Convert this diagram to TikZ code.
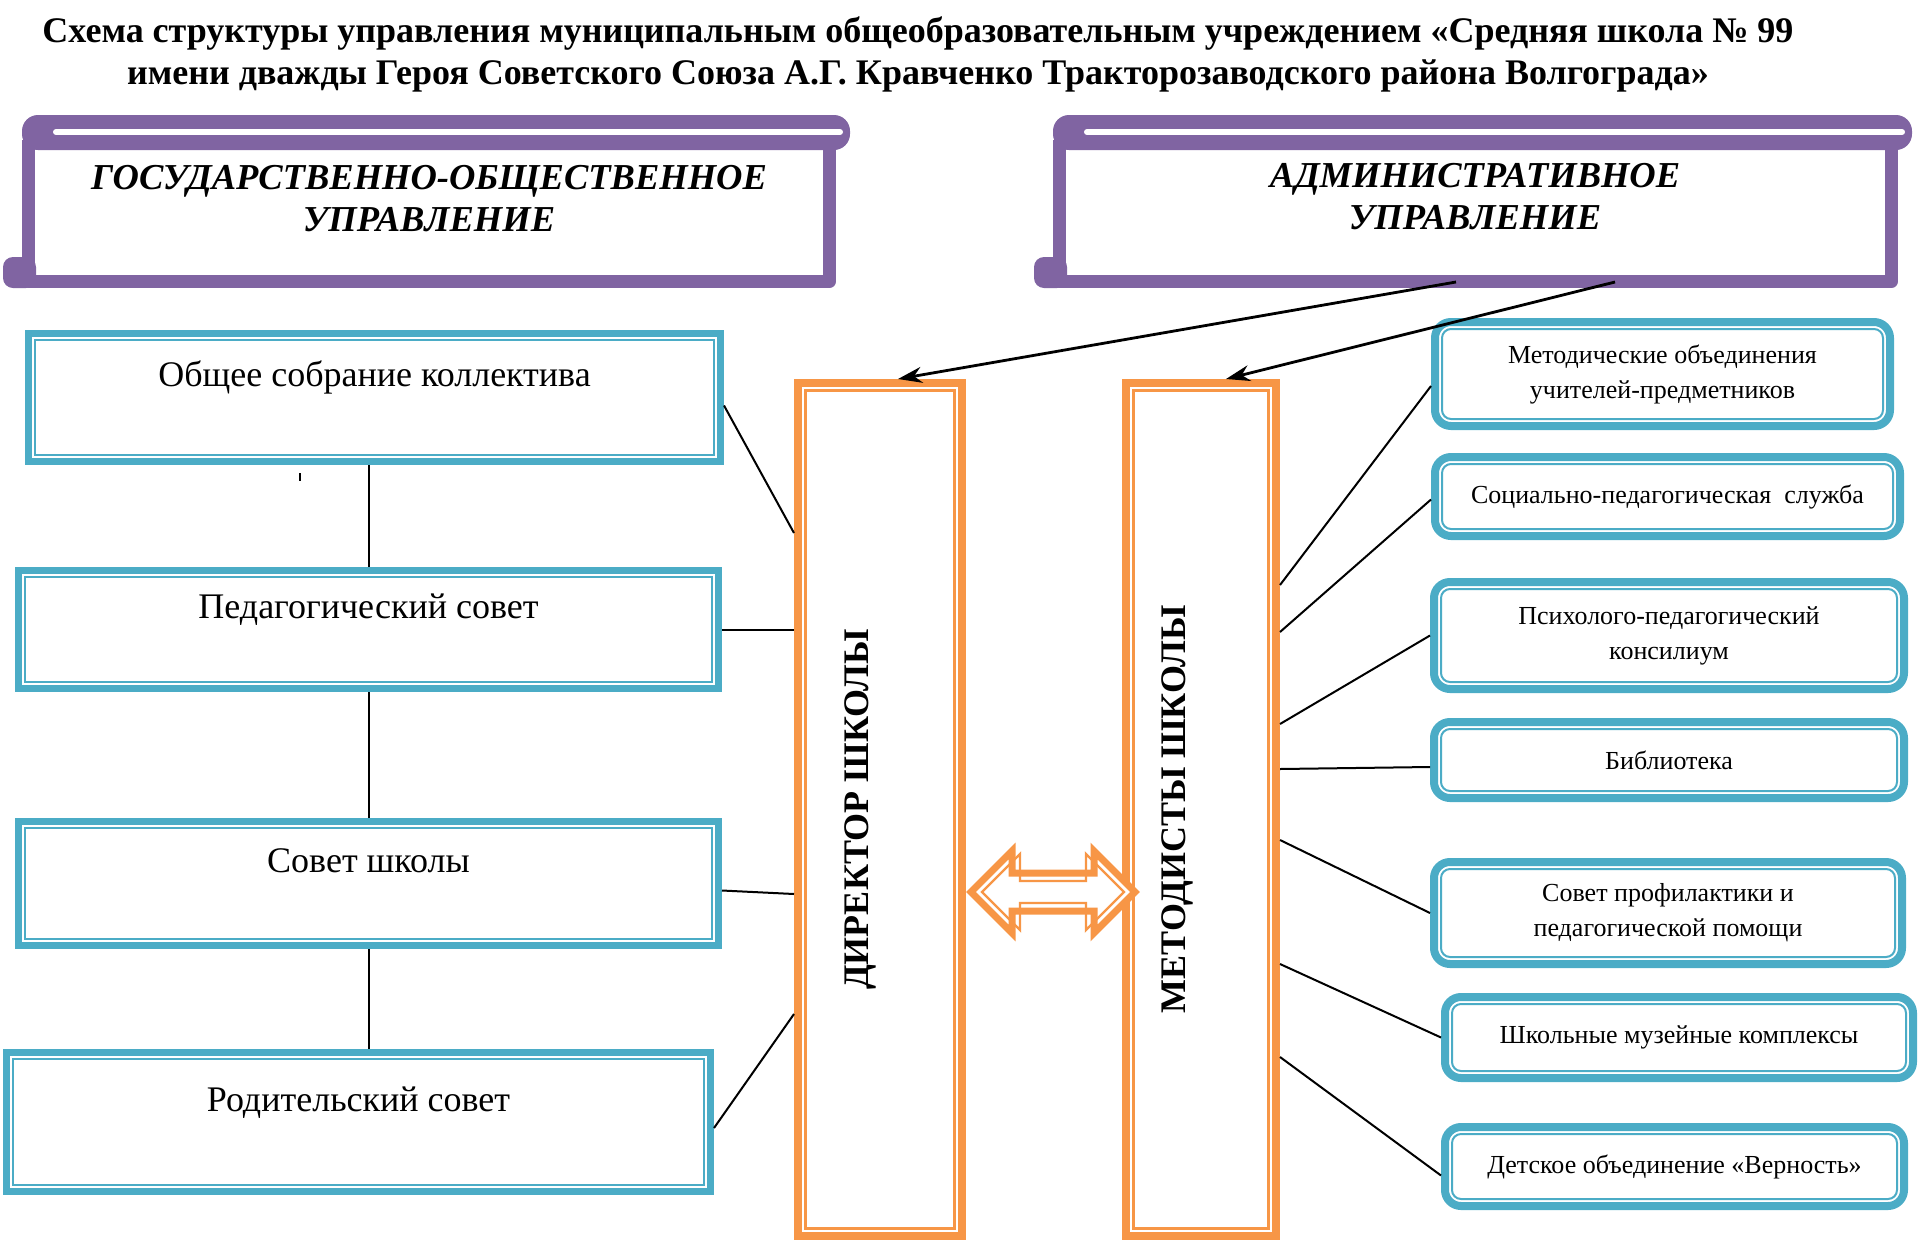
\documentclass[tikz,border=0pt]{standalone}
\usepackage{fontspec}
\setmainfont{Liberation Serif}
\usetikzlibrary{arrows.meta}

\definecolor{bluec}{HTML}{4BACC6}
\definecolor{purc}{HTML}{8064A2}
\definecolor{orgc}{HTML}{F79646}

\tikzset{
  lbox/.style={draw=bluec, line width=7pt, fill=white, align=center,
    font=\fontsize{36}{40}\selectfont, text height=26pt, text depth=48pt},
  rbox/.style={draw=bluec, line width=8pt, fill=white, rounded corners=16pt,
    align=center, font=\fontsize{26}{35}\selectfont},
  colbox/.style={draw=orgc, line width=8pt, fill=white},
  coltext/.style={rotate=90, font=\fontsize{36}{40}\selectfont\bfseries},
  headtext/.style={align=center, font=\fontsize{36.5}{42}\selectfont\bfseries\itshape},
  link/.style={line width=2pt},
  arr/.style={line width=2.8pt, -{Stealth[length=24pt, width=16pt]}},
}

\begin{document}
\begin{tikzpicture}[x=1pt, y=-1pt]
    \useasboundingbox (0,0) rectangle (1920,1240);

    \node[font=\fontsize{36}{42}\selectfont\bfseries, align=center] (title) at (918,54)
        {Схема структуры управления муниципальным общеобразовательным учреждением «Средняя школа № 99\\
         имени дважды Героя Советского Союза А.Г. Кравченко Тракторозаводского района Волгограда»};

    % scrolls
    \foreach \xa/\xb in {22/836, 1053/1898}{
        \fill[white] ({\xa+7},148) rectangle ({\xb-7},282);
        \draw[purc, line width=13pt, line join=round] ({\xa+6.5},140) -- ({\xa+6.5},281.5) -- ({\xb-6.5},281.5) -- ({\xb-6.5},140);
        \fill[purc, rounded corners=16pt] (\xa,115) rectangle ({\xb+14},150);
        \draw[white, line width=6pt, line cap=round] ({\xa+34},132) -- ({\xb+4},132);
        \fill[purc, rounded corners=10pt] ({\xa-19},257) rectangle ({\xa+14},288);
    }
    \node[headtext] (gos) at (429,199) {ГОСУДАРСТВЕННО-ОБЩЕСТВЕННОЕ\\УПРАВЛЕНИЕ};
    \node[headtext] (adm) at (1475,197) {АДМИНИСТРАТИВНОЕ\\УПРАВЛЕНИЕ};

    % left column
    \node[lbox, minimum width=692pt, minimum height=128pt] (ob) at (374.5,397.5) {Общее собрание коллектива};
    \node[lbox, minimum width=700pt, minimum height=118pt] (ped) at (368.5,629.5) {Педагогический совет};
    \node[lbox, minimum width=700pt, minimum height=124pt] (sov) at (368.5,883.5) {Совет школы};
    \node[lbox, minimum width=704pt, minimum height=139pt] (rod) at (358.5,1122) {Родительский совет};
    \foreach \n in {ob,ped,sov,rod}
        \draw[bluec, line width=2pt] ([xshift=10pt,yshift=-10pt]\n.north west) rectangle ([xshift=-10pt,yshift=10pt]\n.south east);

    % middle
    \node[colbox, minimum width=164pt, minimum height=853pt] (dir) at (880,809.5) {};
    \node[colbox, minimum width=150pt, minimum height=853pt] (met) at (1201,809.5) {};
    \foreach \n in {dir,met}
        \draw[orgc, line width=2.5pt] ([xshift=11.5pt,yshift=-11.5pt]\n.north west) rectangle ([xshift=-11.5pt,yshift=11.5pt]\n.south east);
    \node[coltext] (dirt) at ([xshift=-20pt]dir.center) {ДИРЕКТОР ШКОЛЫ};
    \node[coltext] (mett) at ([xshift=-24pt]met.center) {МЕТОДИСТЫ ШКОЛЫ};

    \filldraw[orgc, fill=white, line width=7pt] (971,892) -- (1012,851) -- (1012,873) -- (1094,873) -- (1094,851) -- (1135,892)
        -- (1094,933) -- (1094,911) -- (1012,911) -- (1012,933) -- cycle;
    \draw[orgc, line width=2.4pt] (982,892) -- (1020,854) -- (1020,881) -- (1086,881) -- (1086,854) -- (1124,892)
        -- (1086,930) -- (1086,903) -- (1020,903) -- (1020,930) -- cycle;

    % right column
    \node[rbox, minimum width=455pt, minimum height=104pt] (mo) at (1662.5,374) {Методические объединения\\учителей-предметников};
    \node[rbox, minimum width=465pt, minimum height=79pt] (sp) at (1667.5,496.5) {Социально-педагогическая\ \ служба};
    \node[rbox, minimum width=470pt, minimum height=107pt] (pp) at (1669,635.5) {Психолого-педагогический\\консилиум};
    \node[rbox, minimum width=470pt, minimum height=76pt] (bib) at (1669,760) {Библиотека};
    \node[rbox, minimum width=468pt, minimum height=102pt] (prof) at (1668,913) {Совет профилактики и\\педагогической помощи};
    \node[rbox, minimum width=468pt, minimum height=81pt] (muz) at (1679,1037.5) {Школьные музейные комплексы};
    \node[rbox, minimum width=459pt, minimum height=79pt] (ver) at (1674.5,1166.5) {Детское объединение «Верность»};
    \foreach \n in {mo,sp,pp,bib,prof,muz,ver}
        \draw[bluec, line width=2pt, rounded corners=9pt] ([xshift=11pt,yshift=-11pt]\n.north west) rectangle ([xshift=-11pt,yshift=11pt]\n.south east);

    % links
    \coordinate (a1) at (1456,282);
    \coordinate (a2) at (1615,282);
    \draw[arr] (a1) -- (dir.north -| 898,0);
    \draw[arr] (a2) -- (met.north -| 1226,0);

    \draw[link] (ped.north) -- (ped.north |- ob.south);
    \draw[link] (ped.south) -- (ped.south |- sov.north);
    \draw[link] (sov.south) -- (sov.south |- rod.north);
    \draw[line width=1.5pt] (300,473) -- (300,481);

    \draw[link] ([yshift=-8pt]ob.east) -- (dir.west |- 0,533);
    \draw[link] (ped.east) -- (dir.west |- ped.east);
    \draw[link] ([yshift=-7pt]sov.east) -- (dir.west |- 0,894);
    \draw[link] ([yshift=-6pt]rod.east) -- (dir.west |- 0,1014);

    \draw[link] (met.east |- 0,585) -- ([yshift=-12pt]mo.west);
    \draw[link] (met.east |- 0,632) -- ([yshift=-3pt]sp.west);
    \draw[link] (met.east |- 0,724) -- (pp.west);
    \draw[link] (met.east |- 0,769) -- ([yshift=-7pt]bib.west);
    \draw[link] (met.east |- 0,840) -- (prof.west);
    \draw[link] (met.east |- 0,964) -- (muz.west);
    \draw[link] (met.east |- 0,1057) -- ([yshift=-9pt]ver.west);
\end{tikzpicture}
\end{document}
